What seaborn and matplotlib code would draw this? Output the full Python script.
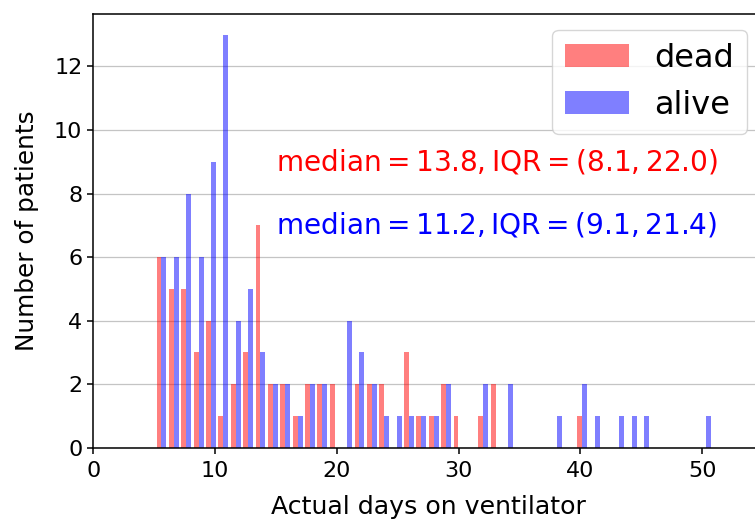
import numpy as np
import pandas as pd
import matplotlib
matplotlib.use("Agg")
import matplotlib.pyplot as plt
import seaborn as sns

# histogram: 45 equal bins between bin_lo and bin_hi
bin_lo = 5.08
bin_hi = 50.82
n_bins = 45

dead_counts = [6, 5, 5, 3, 4, 1, 2, 3, 7, 2,
               2, 1, 2, 2, 2, 0, 2, 2, 2, 0,
               3, 1, 1, 2, 1, 0, 1, 2, 0, 0,
               0, 0, 0, 0, 1, 0, 0, 0, 0, 0,
               0, 0, 0, 0, 0]
alive_counts = [6, 6, 8, 6, 9, 13, 4, 5, 3, 2,
                2, 1, 2, 2, 0, 4, 3, 2, 1, 1,
                1, 1, 1, 2, 0, 0, 2, 0, 2, 0,
                0, 0, 1, 0, 2, 1, 0, 1, 1, 1,
                0, 0, 0, 0, 1]

dead_stats = "$\\mathrm{median} = 13.8, \\mathrm{IQR} = (8.1, 22.0)$"
alive_stats = "$\\mathrm{median} = 11.2, \\mathrm{IQR} = (9.1, 21.4)$"

edges = np.linspace(bin_lo, bin_hi, n_bins + 1)
centers = (edges[:-1] + edges[1:]) / 2
bw = edges[1] - edges[0]

df = pd.DataFrame({
    "days": np.concatenate([centers, centers]),
    "count": dead_counts + alive_counts,
    "status": ["dead"] * n_bins + ["alive"] * n_bins,
})

sns.set_theme(style="ticks")
plt.rcParams["font.family"] = ["DejaVu Sans"]
plt.rcParams.update({"text.color": "black", "axes.labelcolor": "black",
                     "xtick.color": "black", "ytick.color": "black"})

RED = "#ff0000"
BLUE = "#0000ff"

fig = plt.figure(figsize=(7.55, 5.19), dpi=100)
ax = fig.add_axes([0.1238, 0.1374, 0.8868, 0.8356])

# side by side bars like plt.hist with two datasets: shift each group's bins
# by a fifth of a bin and keep 40% of the width
for status, color, shift in [("dead", RED, -0.2), ("alive", BLUE, 0.2)]:
    sub = df[df["status"] == status]
    sns.histplot(data=sub, x="days", weights="count",
                 bins=list(edges + shift * bw),
                 shrink=0.4, color=color, alpha=0.5, linewidth=0,
                 label=status, ax=ax)

ax.set_xlim(0, 55)
ax.set_ylim(0, 13.65)
ax.yaxis.grid(True, color="#c4c4c4", linewidth=0.9)
ax.set_axisbelow(True)
for s in ax.spines.values():
    s.set_color("black")
    s.set_linewidth(1.1)
ax.tick_params(labelsize=16, length=4.5, width=1.1)
ax.tick_params(axis="x", pad=5)
ax.set_xlabel("Actual days on ventilator", fontsize=18.2, labelpad=10)
ax.set_ylabel("Number of patients", fontsize=17.8, labelpad=11)

ax.text(15, 9, dead_stats, color=RED, fontsize=20.2, va="center")
ax.text(15, 7, alive_stats, color=BLUE, fontsize=20.2, va="center")

ax.legend(loc="upper right", fontsize=23, framealpha=0.8)

fig.savefig("out.png", dpi=100)
